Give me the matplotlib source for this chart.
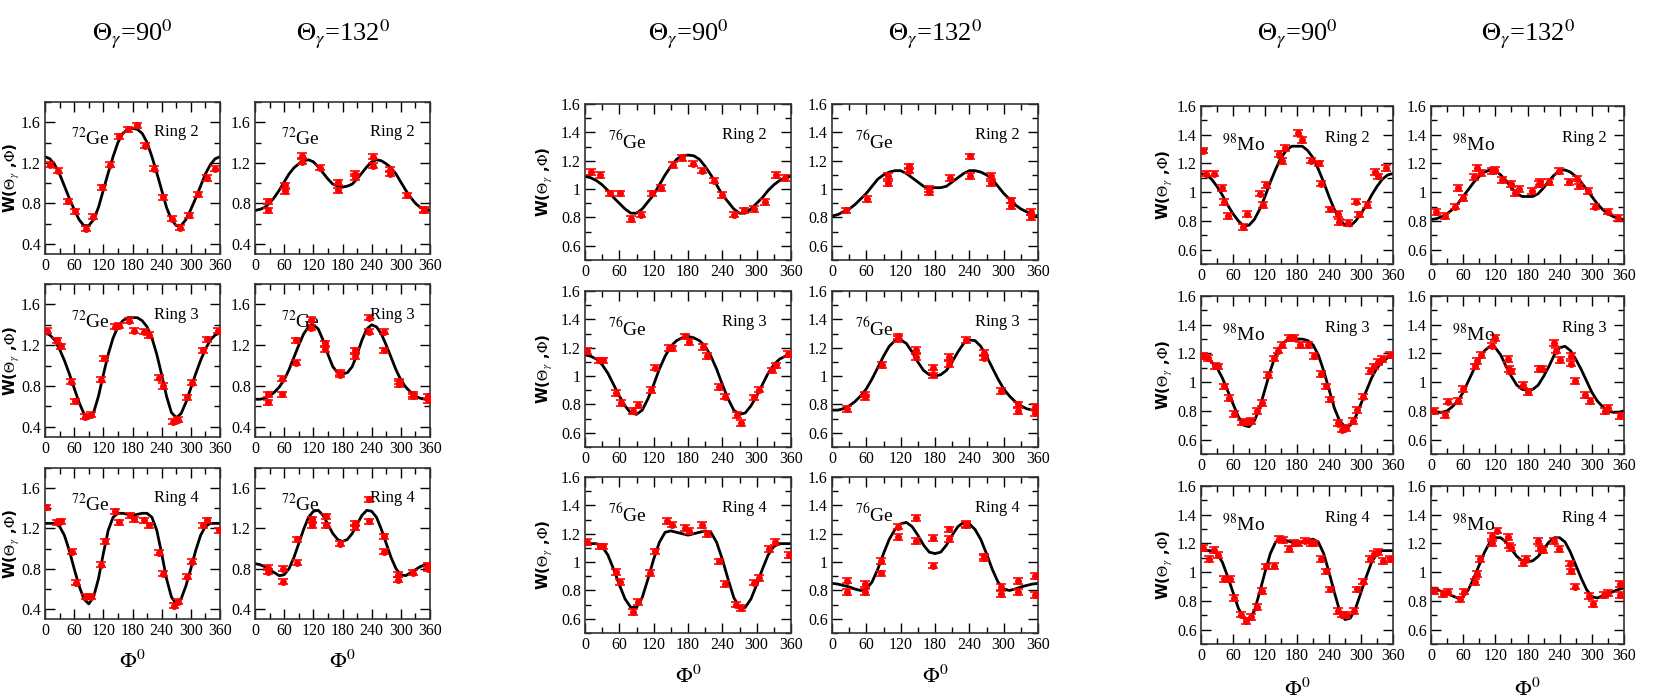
import numpy as np
import matplotlib
matplotlib.use("Agg")
import matplotlib.pyplot as plt
from matplotlib.ticker import MultipleLocator, FormatStrFormatter

plt.rcParams['font.family'] = ['Liberation Serif', 'DejaVu Serif']
plt.rcParams['mathtext.fontset'] = 'stix'

# ---- fit curves, read every 10 degrees from 0 to 360 ----
curve_phi = list(range(0, 361, 10))

c_ge72_90_r2 = [1.26,1.24,1.18,1.09,0.97,0.85,0.74,0.64,0.58,0.58,0.64,0.76,0.93,1.10,1.26,1.40,1.49,1.53,1.54,
                1.53,1.49,1.40,1.26,1.10,0.93,0.76,0.64,0.58,0.58,0.64,0.74,0.85,0.97,1.09,1.18,1.24,1.26]
c_ge72_132_r2 = [0.73,0.74,0.76,0.80,0.86,0.93,1.01,1.09,1.15,1.19,1.22,1.23,1.21,1.16,1.10,1.04,0.99,0.97,0.96,
                 0.97,0.99,1.04,1.10,1.16,1.21,1.23,1.22,1.19,1.15,1.09,1.01,0.93,0.86,0.80,0.76,0.74,0.73]
c_ge72_90_r3 = [1.32,1.30,1.25,1.16,1.05,0.92,0.78,0.64,0.53,0.49,0.54,0.70,0.91,1.11,1.27,1.38,1.44,1.47,1.47,
                1.47,1.44,1.38,1.27,1.11,0.91,0.70,0.54,0.49,0.53,0.64,0.78,0.92,1.05,1.16,1.25,1.30,1.32]
c_ge72_132_r3 = [0.67,0.67,0.68,0.70,0.74,0.79,0.86,0.96,1.08,1.20,1.31,1.38,1.40,1.36,1.25,1.11,0.99,0.93,0.92,
                 0.93,0.99,1.11,1.25,1.36,1.40,1.38,1.31,1.20,1.08,0.96,0.86,0.79,0.74,0.70,0.68,0.67,0.67]
c_ge72_90_r4 = [1.25,1.25,1.25,1.22,1.13,0.98,0.80,0.63,0.50,0.45,0.52,0.70,0.95,1.18,1.31,1.35,1.35,1.34,1.33,
                1.34,1.35,1.35,1.31,1.18,0.95,0.70,0.52,0.45,0.50,0.63,0.80,0.98,1.13,1.22,1.25,1.25,1.25]
c_ge72_132_r4 = [0.85,0.84,0.82,0.79,0.76,0.73,0.74,0.80,0.91,1.05,1.19,1.31,1.37,1.38,1.33,1.24,1.15,1.09,1.07,
                 1.09,1.15,1.24,1.33,1.38,1.37,1.31,1.19,1.05,0.91,0.80,0.74,0.73,0.76,0.79,0.82,0.84,0.85]

c_ge76_90_r2 = [1.09,1.08,1.06,1.03,0.99,0.94,0.90,0.86,0.83,0.83,0.86,0.91,0.96,1.03,1.10,1.16,1.21,1.235,1.24,
                1.235,1.21,1.16,1.10,1.03,0.96,0.91,0.86,0.83,0.83,0.86,0.90,0.94,0.99,1.03,1.06,1.08,1.09]
c_ge76_132_r2 = [0.81,0.82,0.84,0.86,0.89,0.93,0.97,1.02,1.07,1.10,1.12,1.13,1.13,1.11,1.08,1.05,1.02,1.01,1.01,
                 1.01,1.02,1.05,1.08,1.11,1.13,1.13,1.12,1.10,1.07,1.02,0.97,0.93,0.89,0.86,0.84,0.82,0.81]
c_ge76_90_r3 = [1.15,1.14,1.12,1.08,1.02,0.94,0.86,0.79,0.74,0.73,0.76,0.84,0.94,1.05,1.14,1.21,1.25,1.27,1.28,
                1.27,1.25,1.21,1.14,1.05,0.94,0.84,0.76,0.73,0.74,0.79,0.86,0.94,1.02,1.08,1.12,1.14,1.15]
c_ge76_132_r3 = [0.76,0.76,0.77,0.79,0.82,0.86,0.91,0.98,1.06,1.14,1.21,1.25,1.255,1.23,1.17,1.10,1.04,1.01,1.00,
                 1.01,1.04,1.10,1.17,1.23,1.255,1.25,1.21,1.14,1.06,0.98,0.91,0.86,0.82,0.79,0.77,0.76,0.76]
c_ge76_90_r4 = [1.13,1.13,1.13,1.11,1.05,0.95,0.84,0.74,0.68,0.68,0.75,0.88,1.02,1.14,1.21,1.22,1.21,1.20,1.19,
                1.20,1.21,1.22,1.21,1.14,1.02,0.88,0.75,0.68,0.68,0.74,0.84,0.95,1.05,1.11,1.13,1.13,1.13]
c_ge76_132_r4 = [0.85,0.845,0.835,0.825,0.81,0.80,0.81,0.86,0.95,1.06,1.16,1.23,1.27,1.28,1.25,1.19,1.12,1.07,1.06,
                 1.07,1.12,1.19,1.25,1.28,1.27,1.23,1.16,1.06,0.95,0.86,0.81,0.80,0.81,0.825,0.835,0.845,0.85]

c_mo98_90_r2 = [1.13,1.12,1.09,1.04,0.98,0.91,0.85,0.80,0.765,0.77,0.81,0.88,0.97,1.07,1.16,1.24,1.29,1.32,1.32,
                1.32,1.29,1.24,1.16,1.07,0.97,0.88,0.81,0.77,0.765,0.80,0.85,0.91,0.98,1.04,1.09,1.12,1.13]
c_mo98_132_r2 = [0.81,0.815,0.83,0.85,0.88,0.92,0.97,1.02,1.07,1.11,1.14,1.155,1.15,1.12,1.08,1.03,0.99,0.97,0.97,
                 0.97,0.99,1.03,1.08,1.12,1.15,1.155,1.14,1.11,1.07,1.02,0.97,0.92,0.88,0.85,0.83,0.815,0.81]
c_mo98_90_r3 = [1.18,1.17,1.14,1.10,1.03,0.94,0.85,0.76,0.70,0.69,0.73,0.82,0.95,1.08,1.19,1.26,1.29,1.30,1.30,
                1.30,1.29,1.26,1.19,1.08,0.95,0.82,0.73,0.69,0.70,0.76,0.85,0.94,1.03,1.10,1.14,1.17,1.18]
c_mo98_132_r3 = [0.80,0.79,0.79,0.80,0.83,0.87,0.93,1.01,1.09,1.16,1.22,1.25,1.24,1.19,1.11,1.04,0.98,0.95,0.945,
                 0.95,0.98,1.04,1.11,1.19,1.24,1.25,1.22,1.16,1.09,1.01,0.93,0.87,0.83,0.80,0.79,0.79,0.80]
c_mo98_90_r4 = [1.15,1.15,1.15,1.13,1.07,0.97,0.86,0.75,0.68,0.67,0.73,0.86,1.00,1.13,1.21,1.23,1.22,1.21,1.20,
                1.21,1.22,1.23,1.21,1.13,1.00,0.86,0.73,0.67,0.68,0.75,0.86,0.97,1.07,1.13,1.15,1.15,1.15]
c_mo98_132_r4 = [0.89,0.88,0.865,0.85,0.835,0.82,0.83,0.88,0.96,1.05,1.14,1.21,1.24,1.24,1.21,1.16,1.11,1.08,1.07,
                 1.08,1.11,1.16,1.21,1.24,1.24,1.21,1.14,1.05,0.96,0.88,0.83,0.82,0.835,0.85,0.865,0.88,0.89]

# ---- measured points (phi in degrees, W) ----
p_ge72_90_r2 = [10,26,47,62,84,99,118,134,153,170,190,206,225,242,261,278,297,315,334,350]
w_ge72_90_r2 = [1.18,1.12,0.82,0.72,0.55,0.67,0.96,1.18,1.46,1.53,1.57,1.37,1.14,0.86,0.65,0.56,0.68,0.89,1.05,1.14]
p_ge72_132_r2 = [26,26,62,62,97,97,134,170,170,206,206,242,242,278,278,312,348,348]
w_ge72_132_r2 = [0.82,0.73,0.98,0.92,1.27,1.21,1.15,1.01,0.93,1.09,1.06,1.26,1.17,1.13,1.09,0.88,0.74,0.73]
p_ge72_90_r3 = [4,24,33,54,61,83,94,115,122,145,153,173,183,204,213,235,242,263,274,293,303,324,333,356]
w_ge72_90_r3 = [1.34,1.25,1.19,0.84,0.65,0.50,0.52,0.86,1.07,1.38,1.39,1.44,1.34,1.33,1.30,0.88,0.80,0.45,0.47,0.69,0.83,1.15,1.26,1.34]
p_ge72_132_r3 = [26,26,56,56,85,85,115,115,145,145,175,175,206,206,235,235,266,266,296,296,326,326,356,356]
w_ge72_132_r3 = [0.72,0.64,0.87,0.72,1.25,1.03,1.45,1.37,1.22,1.16,0.93,0.91,1.15,1.09,1.47,1.33,1.33,1.15,0.84,0.82,0.72,0.70,0.70,0.66]
p_ge72_90_r4 = [3,24,33,55,63,85,94,115,123,145,152,174,183,204,213,235,242,265,274,293,303,324,333,357]
w_ge72_90_r4 = [1.41,1.26,1.27,0.97,0.66,0.52,0.52,0.84,1.07,1.37,1.26,1.33,1.29,1.28,1.23,0.96,0.75,0.43,0.47,0.72,0.87,1.23,1.28,1.18]
p_ge72_132_r4 = [26,26,58,58,86,86,117,117,146,146,175,206,206,235,235,266,266,295,295,326,355,355]
w_ge72_132_r4 = [0.81,0.77,0.80,0.67,0.86,1.09,1.23,1.29,1.32,1.23,1.05,1.25,1.21,1.49,1.27,1.12,0.97,0.74,0.69,0.76,0.83,0.80]

p_ge76_90_r2 = [10,26,44,61,80,97,117,132,153,169,189,205,225,240,261,277,296,314,333,350]
w_ge76_90_r2 = [1.12,1.10,0.97,0.97,0.79,0.82,0.97,1.01,1.17,1.22,1.18,1.13,1.06,0.96,0.82,0.85,0.86,0.91,1.10,1.08]
p_ge76_132_r2 = [25,61,98,98,134,134,170,170,206,242,242,278,278,312,312,348,348]
w_ge76_132_r2 = [0.85,0.93,1.09,1.04,1.16,1.13,1.00,0.98,1.08,1.23,1.09,1.09,1.04,0.92,0.88,0.84,0.80]
p_ge76_90_r3 = [3,25,32,54,63,84,93,115,123,146,152,174,182,206,214,235,244,266,273,295,304,326,333,354]
w_ge76_90_r3 = [1.175,1.11,1.11,0.88,0.81,0.755,0.795,0.90,1.06,1.20,1.195,1.28,1.24,1.205,1.14,0.925,0.855,0.725,0.67,0.85,0.905,1.04,1.075,1.155]
p_ge76_132_r3 = [27,58,58,88,116,116,146,146,176,176,205,205,235,265,265,295,325,325,355,355]
w_ge76_132_r3 = [0.77,0.87,0.85,1.08,1.28,1.26,1.185,1.135,1.06,1.005,1.135,1.085,1.255,1.165,1.13,0.895,0.80,0.755,0.78,0.74]
p_ge76_90_r4 = [3,26,32,54,62,84,93,114,123,144,152,174,181,204,214,234,244,264,273,295,304,322,332,357]
w_ge76_90_r4 = [1.14,1.11,1.11,0.93,0.86,0.65,0.72,0.925,1.075,1.29,1.265,1.24,1.22,1.26,1.20,1.005,0.845,0.70,0.675,0.855,0.89,1.09,1.14,1.05]
p_ge76_132_r4 = [27,27,57,57,86,86,116,116,146,146,176,176,205,205,235,235,265,265,295,295,325,325,355,355]
w_ge76_132_r4 = [0.87,0.79,0.845,0.79,1.01,0.92,1.25,1.175,1.31,1.15,1.17,0.975,1.23,1.165,1.27,1.26,1.04,1.03,0.825,0.775,0.865,0.79,0.90,0.77]

p_mo98_90_r2 = [3,9,24,40,44,50,79,87,111,116,122,147,152,158,182,189,206,221,225,241,256,259,275,291,297,311,326,331,347]
w_mo98_90_r2 = [1.29,1.13,1.13,1.03,0.93,0.835,0.76,0.85,0.99,0.91,1.05,1.265,1.215,1.31,1.41,1.365,1.22,1.20,1.06,0.88,0.85,0.79,0.785,0.935,0.845,0.91,1.14,1.11,1.17]
p_mo98_132_r2 = [10,27,44,51,60,80,86,94,114,119,132,149,156,165,188,201,204,221,239,258,273,276,292,306,331,349]
w_mo98_132_r2 = [0.86,0.835,0.90,1.03,0.96,1.105,1.17,1.135,1.15,1.155,1.085,1.055,0.995,1.02,1.01,1.055,1.07,1.07,1.145,1.07,1.095,1.04,1.01,0.90,0.865,0.82]
p_mo98_90_r3 = [3,13,26,31,44,53,62,76,85,94,105,115,125,136,144,152,165,174,185,200,212,225,234,242,256,265,272,285,293,303,316,324,331,340,355]
w_mo98_90_r3 = [1.18,1.17,1.115,1.11,0.97,0.89,0.78,0.72,0.725,0.73,0.80,0.855,1.05,1.165,1.22,1.26,1.31,1.31,1.26,1.26,1.18,1.055,0.97,0.88,0.715,0.67,0.68,0.73,0.805,0.90,1.08,1.11,1.14,1.16,1.19]
p_mo98_132_r3 = [5,27,32,51,60,83,86,94,113,120,143,146,150,172,181,201,207,230,233,240,262,262,269,288,297,325,331,353]
w_mo98_132_r3 = [0.80,0.77,0.865,0.87,0.955,1.11,1.145,1.19,1.255,1.31,1.16,1.09,1.075,0.98,0.93,1.09,1.095,1.275,1.22,1.155,1.18,1.13,1.01,0.91,0.87,0.80,0.82,0.765]
p_mo98_90_r4 = [3,15,25,32,44,54,62,75,85,93,105,115,121,136,147,153,165,174,182,195,206,212,225,234,242,256,264,272,287,293,303,316,324,331,342,354]
w_mo98_90_r4 = [1.17,1.09,1.155,1.12,0.955,0.955,0.82,0.705,0.66,0.69,0.76,0.87,1.04,1.045,1.23,1.225,1.16,1.205,1.20,1.22,1.205,1.20,1.09,1.005,0.88,0.73,0.705,0.70,0.73,0.88,0.935,1.09,1.13,1.14,1.08,1.09]
p_mo98_132_r4 = [5,23,32,54,62,83,86,92,113,114,123,143,146,150,172,178,200,204,208,230,239,259,262,268,295,302,322,331,353,353]
w_mo98_132_r4 = [0.87,0.85,0.86,0.81,0.865,0.93,0.985,1.09,1.20,1.25,1.29,1.245,1.185,1.17,1.065,1.09,1.215,1.165,1.155,1.215,1.16,1.06,1.005,0.90,0.835,0.78,0.84,0.855,0.92,0.84]

# typical error bar half-size per group
err_ge72 = 0.025
err_ge76 = 0.02
err_mo98 = 0.02

rings = ['Ring 2', 'Ring 3', 'Ring 4']

# ---- layout (pixel boxes in the 1675x698 picture) ----
W_PX, H_PX = 1675, 698
groups = [
    dict(iso=r'$^{72}$Ge', ylim=(0.3, 1.8), major=0.4, minor=0.2, err=err_ge72,
         cols=[(45, 220), (255, 430)], rows=[(102, 254), (284, 437), (468, 619)],
         ylab_x=22, xlab_y=662, iso_x=0.15,
         data=[[(p_ge72_90_r2, w_ge72_90_r2, c_ge72_90_r2), (p_ge72_132_r2, w_ge72_132_r2, c_ge72_132_r2)],
               [(p_ge72_90_r3, w_ge72_90_r3, c_ge72_90_r3), (p_ge72_132_r3, w_ge72_132_r3, c_ge72_132_r3)],
               [(p_ge72_90_r4, w_ge72_90_r4, c_ge72_90_r4), (p_ge72_132_r4, w_ge72_132_r4, c_ge72_132_r4)]]),
    dict(iso=r'$^{76}$Ge', ylim=(0.5, 1.6), major=0.2, minor=0.1, err=err_ge76,
         cols=[(585, 791), (832, 1038)], rows=[(104, 260), (291, 447), (477, 633)],
         ylab_x=555, xlab_y=677, iso_x=0.11,
         data=[[(p_ge76_90_r2, w_ge76_90_r2, c_ge76_90_r2), (p_ge76_132_r2, w_ge76_132_r2, c_ge76_132_r2)],
               [(p_ge76_90_r3, w_ge76_90_r3, c_ge76_90_r3), (p_ge76_132_r3, w_ge76_132_r3, c_ge76_132_r3)],
               [(p_ge76_90_r4, w_ge76_90_r4, c_ge76_90_r4), (p_ge76_132_r4, w_ge76_132_r4, c_ge76_132_r4)]]),
    dict(iso=r'$^{98}$Mo', ylim=(0.5, 1.6), major=0.2, minor=0.1, err=err_mo98,
         cols=[(1201, 1393), (1431, 1624)], rows=[(106, 264), (296, 454), (486, 644)],
         ylab_x=1175, xlab_y=690, iso_x=0.11,
         data=[[(p_mo98_90_r2, w_mo98_90_r2, c_mo98_90_r2), (p_mo98_132_r2, w_mo98_132_r2, c_mo98_132_r2)],
               [(p_mo98_90_r3, w_mo98_90_r3, c_mo98_90_r3), (p_mo98_132_r3, w_mo98_132_r3, c_mo98_132_r3)],
               [(p_mo98_90_r4, w_mo98_90_r4, c_mo98_90_r4), (p_mo98_132_r4, w_mo98_132_r4, c_mo98_132_r4)]]),
]
titles = [r'$\Theta_{\gamma}$=90$^{0}$', r'$\Theta_{\gamma}$=132$^{0}$']
ring_x = [0.88, 0.91]

fig = plt.figure(figsize=(W_PX / 100, H_PX / 100), dpi=100)

for g in groups:
    for ci, (x0, x1) in enumerate(g['cols']):
        fig.text((x0 + x1) / 2 / W_PX, 1 - 34 / H_PX, titles[ci], ha='center', va='center', fontsize=19)
        fig.text((x0 + x1) / 2 / W_PX, 1 - g['xlab_y'] / H_PX, r'$\Phi^{0}$', ha='center', va='center', fontsize=16)
        for ri, (y0, y1) in enumerate(g['rows']):
            ax = fig.add_axes([x0 / W_PX, 1 - y1 / H_PX, (x1 - x0) / W_PX, (y1 - y0) / H_PX])
            phi, w, curve = g['data'][ri][ci]
            ax.plot(curve_phi, curve, color='black', lw=2, zorder=2)
            ax.errorbar(phi, w, yerr=g['err'], fmt='o', color='red', ms=4, elinewidth=1.2,
                        capsize=3.5, capthick=1.2, zorder=3)
            ax.set_xlim(0, 360)
            ax.set_ylim(*g['ylim'])
            ax.xaxis.set_major_locator(MultipleLocator(60))
            ax.xaxis.set_minor_locator(MultipleLocator(30))
            ax.yaxis.set_major_locator(MultipleLocator(g['major']))
            ax.yaxis.set_minor_locator(MultipleLocator(g['minor']))
            ax.yaxis.set_major_formatter(FormatStrFormatter('%g'))
            ax.tick_params(which='both', direction='in', top=True, right=True, labelsize=11.5, pad=3)
            ax.tick_params(which='major', length=7, width=1)
            ax.tick_params(which='minor', length=4, width=1)
            for s in ax.spines.values():
                s.set_linewidth(1.2)
                s.set_color('#333333')
            ax.text(g['iso_x'], 0.76, g['iso'], transform=ax.transAxes, fontsize=14, va='center')
            ax.text(ring_x[ci], 0.80, rings[ri], transform=ax.transAxes, fontsize=12, ha='right', va='center')
            if ci == 0:
                ax.set_ylabel(r'W($\Theta_{\gamma}$ ,$\Phi$)', fontsize=11, fontweight='bold',
                              family=['DejaVu Sans'])
                ax.yaxis.set_label_coords((g['ylab_x'] - x0) / (x1 - x0), 0.5)

fig.savefig('out.png', dpi=100)
